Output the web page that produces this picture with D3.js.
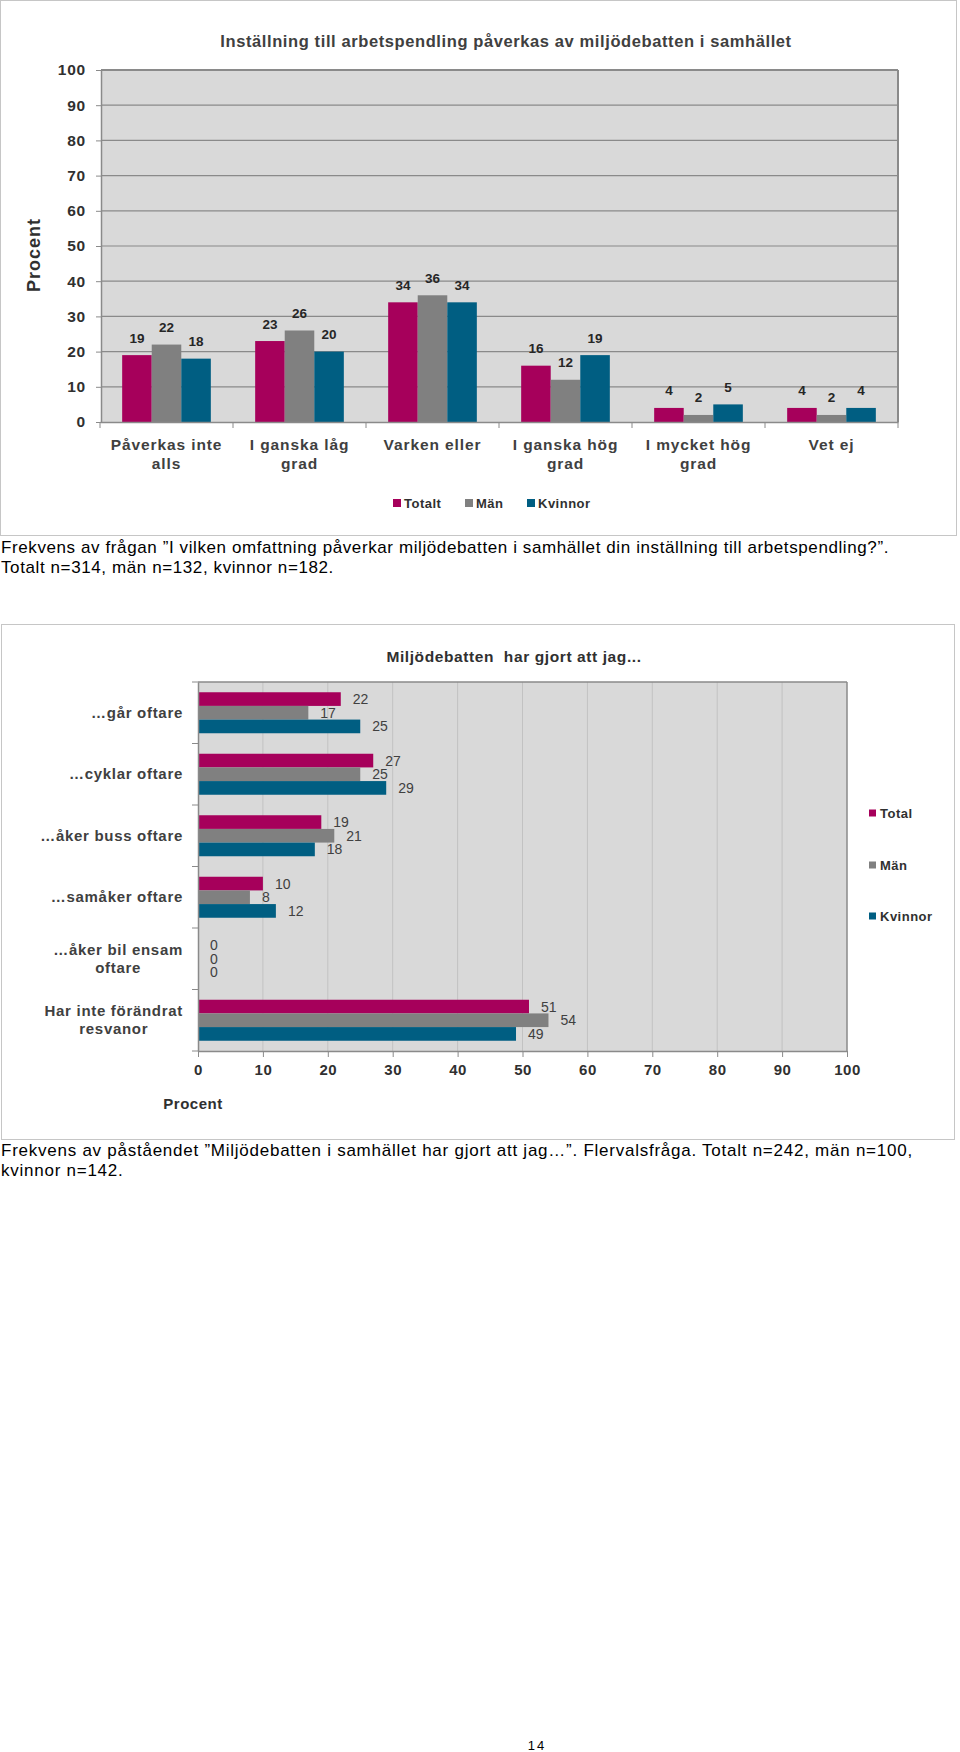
<!DOCTYPE html>
<html>
<head>
<meta charset="utf-8">
<script src="https://cdn.jsdelivr.net/npm/d3@7"></script>
<style>
  body { margin: 0; background: #fff; }
  svg { display: block; font-family: "Liberation Sans", Arial, sans-serif; }
</style>
</head>
<body>
<script>
// --- DATEN: Diagramm 1 ---
const categories1 = ["Påverkas inte alls", "I ganska låg grad", "Varken eller", "I ganska hög grad", "I mycket hög grad", "Vet ej"];
const catLines1 = [["Påverkas inte", "alls"], ["I ganska låg", "grad"], ["Varken eller"], ["I ganska hög", "grad"], ["I mycket hög", "grad"], ["Vet ej"]];
const series1 = ["Totalt", "Män", "Kvinnor"];
const totalt1 = [19, 23, 34, 16, 4, 4];
const man1 = [22, 26, 36, 12, 2, 2];
const kvinnor1 = [18, 20, 34, 19, 5, 4];
const yTicks1 = [0, 10, 20, 30, 40, 50, 60, 70, 80, 90, 100];

// --- DATEN: Diagramm 2 ---
const categories2 = ["…går oftare", "…cyklar oftare", "…åker buss oftare", "…samåker oftare", "…åker bil ensam oftare", "Har inte förändrat resvanor"];
const catLines2 = [["…går oftare"], ["…cyklar oftare"], ["…åker buss oftare"], ["…samåker oftare"], ["…åker bil ensam", "oftare"], ["Har inte förändrat", "resvanor"]];
const series2 = ["Total", "Män", "Kvinnor"];
const total2 = [22, 27, 19, 10, 0, 51];
const man2 = [17, 25, 21, 8, 0, 54];
const kvinnor2 = [25, 29, 18, 12, 0, 49];
const xTicks2 = [0, 10, 20, 30, 40, 50, 60, 70, 80, 90, 100];

const colors = ["#a6005b", "#808080", "#005e82"];
const textDark = "#303030";

const svg = d3.select("body").append("svg").attr("width", 960).attr("height", 1752);

// ================= Diagramm 1 =================
svg.append("rect").attr("x", 0.5).attr("y", 0.5).attr("width", 956).attr("height", 535)
  .attr("fill", "#fff").attr("stroke", "#c6c6c6");

svg.append("text").attr("x", 506).attr("y", 47).attr("text-anchor", "middle")
  .attr("font-size", 16.5).attr("font-weight", "bold").attr("letter-spacing", 0.6)
  .attr("fill", "#404040")
  .text("Inställning till arbetspendling påverkas av miljödebatten i samhället");

const y1 = d3.scaleLinear().domain([0, 100]).range([422, 70]);
const x1 = d3.scaleBand().domain(categories1).range([100, 898]);
const xs1 = d3.scaleBand().domain(series1).range([0, x1.bandwidth()]).paddingOuter(0.75);
const vals1 = [totalt1, man1, kvinnor1];

const g1 = svg.append("g");
g1.append("rect").attr("x", 101).attr("y", y1(100)).attr("width", 898 - 101).attr("height", y1(0) - y1(100))
  .attr("fill", "#d9d9d9");

// Gitterlinien
g1.selectAll("line.grid").data(yTicks1.filter(d => d > 0)).join("line")
  .attr("x1", 101).attr("x2", 898).attr("y1", d => y1(d)).attr("y2", d => y1(d))
  .attr("stroke", "#8a8a8a").attr("stroke-width", d => d === 100 ? 2 : 1.2);
g1.append("line").attr("x1", 898).attr("x2", 898).attr("y1", y1(100)).attr("y2", y1(0))
  .attr("stroke", "#8a8a8a").attr("stroke-width", 2);

// Balken
series1.forEach((s, si) => {
  g1.selectAll("rect.s" + si).data(categories1).join("rect")
    .attr("x", c => x1(c) + xs1(s)).attr("width", xs1.bandwidth())
    .attr("y", (c, i) => y1(vals1[si][i])).attr("height", (c, i) => y1(0) - y1(vals1[si][i]))
    .attr("fill", colors[si]);
  g1.selectAll("text.s" + si).data(categories1).join("text")
    .attr("x", c => x1(c) + xs1(s) + xs1.bandwidth() / 2)
    .attr("y", (c, i) => y1(vals1[si][i]) - 12.5)
    .attr("text-anchor", "middle").attr("font-size", 13.5).attr("font-weight", "bold")
    .attr("fill", "#262626")
    .text((c, i) => vals1[si][i]);
});

// Y-Achse
const yAxis1 = g1.append("g").attr("transform", "translate(101,0)")
  .call(d3.axisLeft(y1).tickValues(yTicks1).tickSize(5).tickSizeOuter(0).tickPadding(10));
yAxis1.attr("font-family", null);
yAxis1.select(".domain").attr("stroke", "#8a8a8a").attr("stroke-width", 1.5);
yAxis1.selectAll(".tick line").attr("stroke", "#8a8a8a");
yAxis1.selectAll(".tick text").attr("font-size", 15.5).attr("font-weight", "bold")
  .attr("letter-spacing", 0.8).attr("fill", textDark);

svg.append("text").attr("transform", "translate(40,255) rotate(-90)")
  .attr("text-anchor", "middle").attr("font-size", 18).attr("font-weight", "bold")
  .attr("letter-spacing", 1).attr("fill", textDark).text("Procent");

// X-Achse
const xAxis1 = g1.append("g").attr("transform", `translate(0,${y1(0)})`)
  .call(d3.axisBottom(x1).tickSize(0).tickSizeOuter(0).tickFormat(""));
xAxis1.select(".domain").attr("stroke", "#8a8a8a").attr("stroke-width", 1.5);
xAxis1.selectAll(".tick text").remove();
xAxis1.selectAll(".tick").append("text")
  .attr("font-size", 15.5).attr("font-weight", "bold").attr("letter-spacing", 0.9)
  .attr("fill", "#404040").attr("text-anchor", "middle")
  .each(function(c) {
    const lines = catLines1[categories1.indexOf(c)];
    d3.select(this).selectAll("tspan").data(lines).join("tspan")
      .attr("x", 0).attr("y", (l, i) => 27.5 + i * 19).text(l => l);
  });
const bounds1 = categories1.map(c => x1(c)).concat([x1.range()[1]]);
xAxis1.selectAll("line.sep").data(bounds1).join("line")
  .attr("x1", d => d).attr("x2", d => d).attr("y1", 0).attr("y2", 6)
  .attr("stroke", "#8a8a8a");

// Legende 1
const leg1X = [393, 465, 527];
series1.forEach((s, i) => {
  svg.append("rect").attr("x", leg1X[i]).attr("y", 499).attr("width", 8).attr("height", 8).attr("fill", colors[i]);
  svg.append("text").attr("x", leg1X[i] + 11).attr("y", 508)
    .attr("font-size", 13).attr("font-weight", "bold").attr("letter-spacing", 0.5)
    .attr("fill", textDark).text(s);
});

// Bildtext 1
const cap1 = ["Frekvens av frågan ”I vilken omfattning påverkar miljödebatten i samhället din inställning till arbetspendling?”.",
  "Totalt n=314, män n=132, kvinnor n=182."];
svg.selectAll("text.cap1").data(cap1).join("text")
  .attr("x", 1).attr("y", (d, i) => 553 + i * 20)
  .attr("font-size", 17).attr("letter-spacing", 0.6).attr("fill", "#000").text(d => d);

// ================= Diagramm 2 =================
svg.append("rect").attr("x", 1.5).attr("y", 624.5).attr("width", 953).attr("height", 515)
  .attr("fill", "#fff").attr("stroke", "#c6c6c6");

svg.append("text").attr("x", 514).attr("y", 662).attr("text-anchor", "middle")
  .attr("font-size", 15.5).attr("font-weight", "bold").attr("letter-spacing", 0.6)
  .attr("fill", textDark).attr("xml:space", "preserve").text("Miljödebatten  har gjort att jag...");

const x2 = d3.scaleLinear().domain([0, 100]).range([198, 847]);
const y2 = d3.scaleBand().domain(categories2).range([682, 1051]);
const ys2 = d3.scaleBand().domain(series2).range([0, y2.bandwidth()]).paddingOuter(0.75);
const vals2 = [total2, man2, kvinnor2];

const g2 = svg.append("g");
g2.append("rect").attr("x", x2(0)).attr("y", 682).attr("width", x2(100) - x2(0)).attr("height", 1051 - 682)
  .attr("fill", "#d9d9d9");
g2.selectAll("line.grid").data(xTicks2.filter(d => d > 0 && d < 100)).join("line")
  .attr("x1", d => x2(d)).attr("x2", d => x2(d)).attr("y1", 682).attr("y2", 1051)
  .attr("stroke", "#c2c2c2").attr("stroke-width", 1);
g2.append("line").attr("x1", x2(0)).attr("x2", x2(100)).attr("y1", 682).attr("y2", 682)
  .attr("stroke", "#8a8a8a").attr("stroke-width", 1.5);
g2.append("line").attr("x1", x2(100)).attr("x2", x2(100)).attr("y1", 682).attr("y2", 1051)
  .attr("stroke", "#8a8a8a").attr("stroke-width", 1.5);

series2.forEach((s, si) => {
  g2.selectAll("rect.s" + si).data(categories2).join("rect")
    .attr("y", c => y2(c) + ys2(s)).attr("height", ys2.bandwidth())
    .attr("x", x2(0)).attr("width", (c, i) => x2(vals2[si][i]) - x2(0))
    .attr("fill", colors[si]);
  g2.selectAll("text.s" + si).data(categories2).join("text")
    .attr("x", (c, i) => x2(vals2[si][i]) + 12)
    .attr("y", c => y2(c) + ys2(s) + ys2.bandwidth() / 2 + 5)
    .attr("font-size", 14).attr("fill", "#404040")
    .text((c, i) => vals2[si][i]);
});

// X-Achse 2
const xAxis2 = g2.append("g").attr("transform", "translate(0,1051)")
  .call(d3.axisBottom(x2).tickValues(xTicks2).tickSize(6).tickSizeOuter(0).tickPadding(7));
xAxis2.attr("font-family", null);
xAxis2.select(".domain").attr("stroke", "#8a8a8a").attr("stroke-width", 1.5);
xAxis2.selectAll(".tick line").attr("stroke", "#8a8a8a");
xAxis2.selectAll(".tick text").attr("font-size", 15).attr("font-weight", "bold")
  .attr("letter-spacing", 0.5).attr("fill", textDark);

svg.append("text").attr("x", 193).attr("y", 1109).attr("text-anchor", "middle")
  .attr("font-size", 15).attr("font-weight", "bold").attr("letter-spacing", 0.5)
  .attr("fill", textDark).text("Procent");

// Y-Achse 2
const yAxis2 = g2.append("g").attr("transform", `translate(${x2(0)},0)`)
  .call(d3.axisLeft(y2).tickSize(0).tickSizeOuter(0).tickFormat(""));
yAxis2.attr("font-family", null);
yAxis2.select(".domain").attr("stroke", "#8a8a8a").attr("stroke-width", 1.5);
yAxis2.selectAll(".tick text").remove();
const bounds2 = categories2.map(c => y2(c)).concat([y2.range()[1]]);
yAxis2.selectAll("line.sep").data(bounds2).join("line")
  .attr("x1", -6).attr("x2", 0).attr("y1", d => d).attr("y2", d => d)
  .attr("stroke", "#8a8a8a");

categories2.forEach((c, ci) => {
  const lines = catLines2[ci];
  const t = yAxis2.append("text")
    .attr("font-size", 15).attr("font-weight", "bold").attr("letter-spacing", 0.7)
    .attr("fill", "#404040");
  const cy = y2(c) + y2.bandwidth() / 2;
  t.selectAll("tspan").data(lines).join("tspan")
    .attr("y", (l, i) => cy + 5 + (i - (lines.length - 1) / 2) * 18).text(l => l);
  if (lines.length === 1) {
    t.attr("text-anchor", "end").selectAll("tspan").attr("x", -15);
  } else {
    const w = d3.max(t.selectAll("tspan").nodes(), n => n.getComputedTextLength());
    t.attr("text-anchor", "middle").selectAll("tspan").attr("x", -15 - w / 2);
  }
});

// Legende 2
const leg2Y = [813, 865, 916];
series2.forEach((s, i) => {
  svg.append("rect").attr("x", 869).attr("y", leg2Y[i] - 3.5).attr("width", 7).attr("height", 7).attr("fill", colors[i]);
  svg.append("text").attr("x", 880).attr("y", leg2Y[i] + 5)
    .attr("font-size", 13).attr("font-weight", "bold").attr("letter-spacing", 0.5)
    .attr("fill", textDark).text(s);
});

// Bildtext 2
const cap2 = ["Frekvens av påståendet ”Miljödebatten i samhället har gjort att jag…”. Flervalsfråga. Totalt n=242, män n=100,",
  "kvinnor n=142."];
svg.selectAll("text.cap2").data(cap2).join("text")
  .attr("x", 1).attr("y", (d, i) => 1156 + i * 20)
  .attr("font-size", 17).attr("letter-spacing", 0.75).attr("fill", "#000").text(d => d);

// Seitenzahl
svg.append("text").attr("x", 537).attr("y", 1750).attr("text-anchor", "middle")
  .attr("font-size", 13).attr("letter-spacing", 2).attr("fill", "#000").text("14");
</script>
</body>
</html>
